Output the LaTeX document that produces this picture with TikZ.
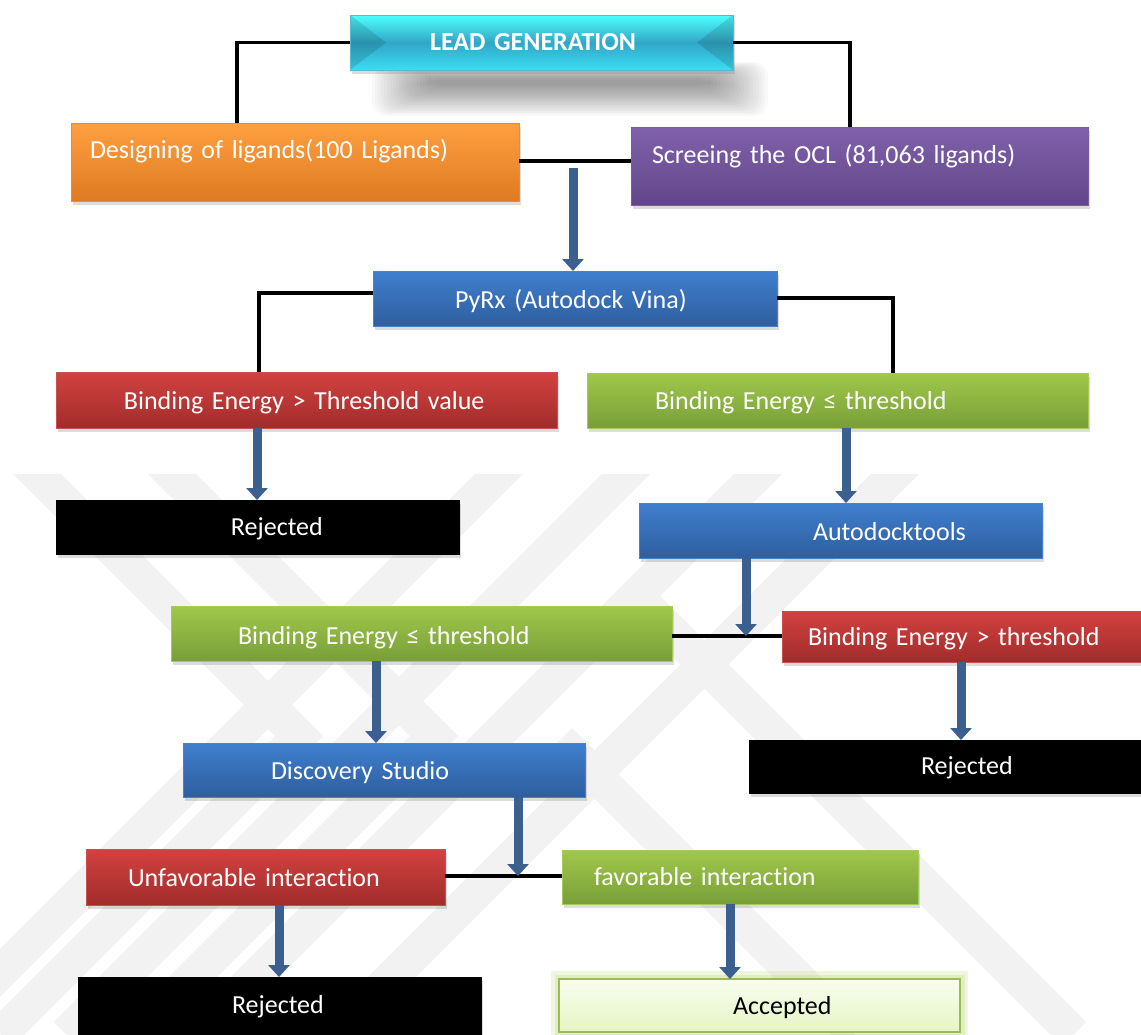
\documentclass[tikz,border=0pt]{standalone}
\usepackage{fontspec}
\setmainfont[WordSpace=0.85,Ligatures=NoCommon]{Carlito}
\usetikzlibrary{arrows.meta,shadows}
\definecolor{wm}{HTML}{F2F2F2}
\definecolor{cyantop}{HTML}{4DFFFF}
\definecolor{cyanmid}{HTML}{31A6C6}
\definecolor{cyanbot}{HTML}{3ADDF5}
\definecolor{orangetop}{HTML}{FFA040}
\definecolor{orangebot}{HTML}{DE7A22}
\definecolor{orangeedge}{HTML}{E98A36}
\definecolor{purpletop}{HTML}{8061AB}
\definecolor{purplebot}{HTML}{624689}
\definecolor{purpleedge}{HTML}{7A5CA3}
\definecolor{bluetop}{HTML}{3F7FCF}
\definecolor{bluebot}{HTML}{2F5E9E}
\definecolor{blueedge}{HTML}{4A82C8}
\definecolor{redtop}{HTML}{D24240}
\definecolor{redbot}{HTML}{A12C2B}
\definecolor{rededge}{HTML}{C9504E}
\definecolor{greentop}{HTML}{A0C84A}
\definecolor{greenbot}{HTML}{789F38}
\definecolor{greenedge}{HTML}{A6C95E}
\definecolor{acctop}{HTML}{F8FDEE}
\definecolor{accbot}{HTML}{E6F5C4}
\definecolor{accedge}{HTML}{9BBB59}
\definecolor{accglow}{HTML}{C3DE86}
\definecolor{arrowblue}{HTML}{3B5F8E}
\newcommand\flowbox[9]{%
  \pgfmathsetmacro\fbw{#5-#3}%
  \pgfmathsetmacro\fbh{#7-#4}%
  \pgfmathsetmacro\fbd{#6-#7}%
  \node[#2, anchor=north west, inner sep=0pt, outer sep=0pt,
        text width=\fbw pt, text height=\fbh pt, text depth=\fbd pt, align=left]
        (#1) at (#3,#4) {\hspace*{#8pt}#9};}
\begin{document}
\begin{tikzpicture}[x=1pt,y=-1pt,
  font=\fontsize{26}{30}\selectfont,
  box/.style={line width=1pt, text=white,
    drop shadow={shadow xshift=2pt,shadow yshift=-4pt,opacity=0.28}},
  cyanbox/.style={box, draw=cyanmid!80!white, top color=cyantop, bottom color=cyanbot, middle color=cyanmid,
    path picture={
      \fill[black,opacity=0.12] (path picture bounding box.north west) -- ([xshift=36pt]path picture bounding box.west) -- (path picture bounding box.south west) -- cycle;
      \fill[black,opacity=0.12] (path picture bounding box.north east) -- ([xshift=-36pt]path picture bounding box.east) -- (path picture bounding box.south east) -- cycle;}},
  orangebox/.style={box, draw=orangeedge, top color=orangetop, bottom color=orangebot},
  purplebox/.style={box, draw=purpleedge, top color=purpletop, bottom color=purplebot},
  bluebox/.style={box, draw=blueedge, top color=bluetop, bottom color=bluebot},
  redbox/.style={box, draw=rededge, top color=redtop, bottom color=redbot},
  greenbox/.style={box, draw=greenedge, top color=greentop, bottom color=greenbot},
  blackbox/.style={box, draw=black, fill=black},
  acceptbox/.style={line width=1.5pt, draw=accedge, top color=acctop, bottom color=accbot, text=black,
    preaction={draw=accglow, line width=16pt, opacity=0.25},
    preaction={draw=accglow, line width=9pt, opacity=0.35}},
  conn/.style={line width=3.5pt, black},
  arr/.style={line width=9pt, arrowblue, -{Triangle[width=21pt,length=12pt]}},
  wmline/.style={line width=34pt, wm, line join=miter}
]
\useasboundingbox (0,0) rectangle (1141,1034);
% watermark
\begin{scope}
  \clip (0,474) rectangle (1141,1034);
  \draw[wmline] (13,450) -- (299,736) -- (1,1034);
  \draw[wmline] (148,450) -- (434,736) -- (136,1034);
  \draw[wmline] (523,450) -- (-61,1034);
  \draw[wmline] (650,450) -- (66,1034);
  \draw[wmline] (782,450) -- (198,1034);
  \draw[wmline] (919,450) -- (335,1034);
  \draw[wmline] (640,600) -- (1074,1034);
  \draw[wmline] (560,740) -- (854,1034);
\end{scope}
% soft shadow under the title
\foreach \i in {0,...,19}{
  \fill[black,opacity=0.022,rounded corners=14pt] (372+\i*3,62+\i*0.9) rectangle (768-\i*3,116-\i*1.6);
}
% boxes
\flowbox{lead}{cyanbox}{350}{15}{733}{70}{50}{80}{\textbf{LEAD GENERATION}}
\flowbox{design}{orangebox}{71}{123}{519}{201}{158}{19}{Designing of ligands(100 Ligands)}
\flowbox{screen}{purplebox}{631}{127}{1088}{205}{163}{21}{Screeing the OCL (81,063 ligands)}
\flowbox{pyrx}{bluebox}{373}{271}{777}{326}{308}{82}{PyRx (Autodock Vina)}
\flowbox{red1}{redbox}{56}{372}{557}{428}{409}{68}{Binding Energy > Threshold value}
\flowbox{green1}{greenbox}{587}{373}{1088}{428}{409}{68}{Binding Energy ≤ threshold}
\flowbox{rej1}{blackbox}{56}{500}{459}{554}{535}{175}{Rejected}
\flowbox{autodock}{bluebox}{639}{503}{1042}{558}{540}{174}{Autodocktools}
\flowbox{green2}{greenbox}{171}{606}{672}{661}{644}{67}{Binding Energy ≤ threshold}
\flowbox{red2}{redbox}{782}{611}{1150}{662}{645}{26}{Binding Energy > threshold}
\flowbox{disc}{bluebox}{183}{743}{585}{797}{779}{88}{Discovery Studio}
\flowbox{rej2}{blackbox}{749}{740}{1150}{793}{774}{172}{Rejected}
\flowbox{unfav}{redbox}{86}{849}{445}{905}{886}{42}{Unfavorable interaction}
\flowbox{fav}{greenbox}{562}{850}{918}{904}{885}{32}{favorable interaction}
\flowbox{rej3}{blackbox}{78}{977}{481}{1036}{1013}{154}{Rejected}
\flowbox{acc}{acceptbox}{559}{979}{960}{1032}{1014}{174}{Accepted}
% junction points
\coordinate (j1) at (573,168);
\coordinate (j2) at (746,636);
\coordinate (j3) at (518,876);
% black connectors
\draw[conn] (lead.west) -| (design.north -| 237,0);
\draw[conn] (lead.east) -| (screen.north -| 850,0);
\draw[conn] (design.east |- 0,161) -- (screen.west |- 0,161);
\draw[conn] (pyrx.west |- 0,293) -| (red1.north -| 259,0);
\draw[conn] (pyrx.east |- 0,298) -| (green1.north -| 893,0);
\draw[conn] (green2.east |- 0,636) -- (red2.west |- 0,636);
\draw[conn] (unfav.east |- 0,876) -- (fav.west |- 0,876);
% blue arrows
\draw[arr] (j1) -- (pyrx.north -| j1);
\draw[arr] (red1.south -| 257,0) -- (rej1.north -| 257,0);
\draw[arr] (green1.south -| 846,0) -- (autodock.north -| 846,0);
\draw[arr] (autodock.south -| j2) -- (j2);
\draw[arr] (green2.south -| 376,0) -- (disc.north -| 376,0);
\draw[arr] (red2.south -| 961,0) -- (rej2.north -| 961,0);
\draw[arr] (disc.south -| j3) -- (j3);
\draw[arr] (unfav.south -| 279,0) -- (rej3.north -| 279,0);
\draw[arr] (fav.south -| 730,0) -- (acc.north -| 730,0);
\end{tikzpicture}
\end{document}
